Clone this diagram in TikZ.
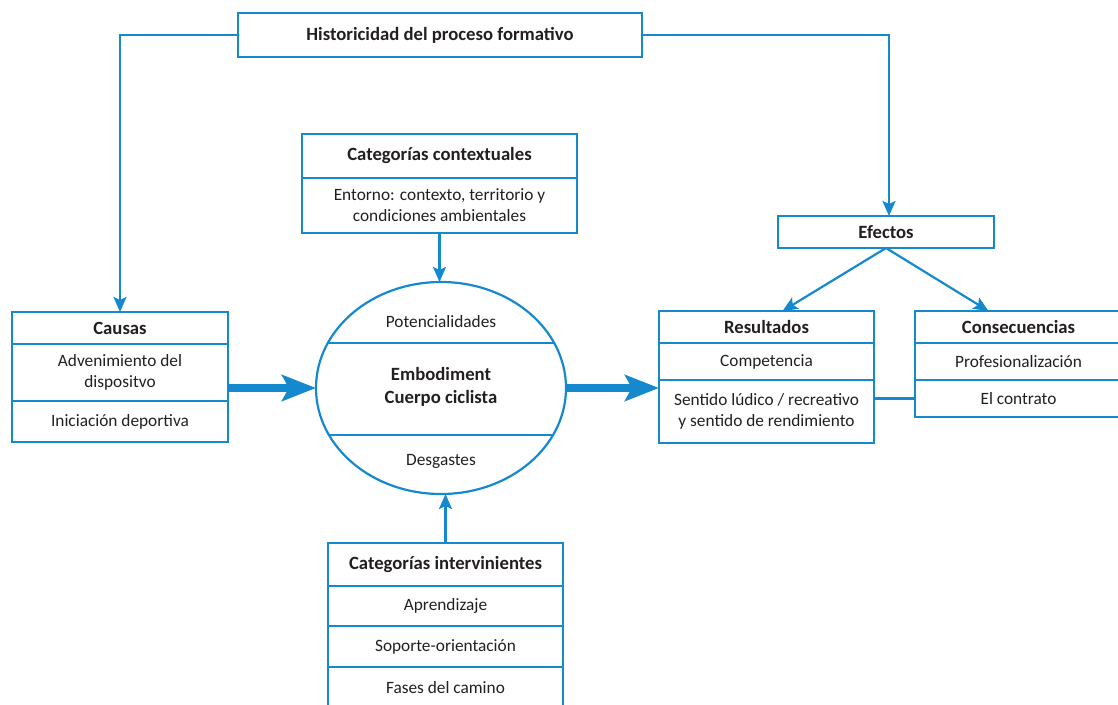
\documentclass[tikz,border=0pt]{standalone}
\usepackage{fontspec}
\setmainfont{Carlito}
\usetikzlibrary{positioning,shapes.geometric,arrows.meta}
\definecolor{diagblue}{RGB}{21,137,206}
\definecolor{inkgray}{RGB}{35,31,32}

\begin{document}
\begin{tikzpicture}[x=1pt,y=-1pt,
    font=\fontsize{17.3}{21}\selectfont,
    cell/.style={draw=diagblue, line width=2.2pt, outer sep=0pt, inner sep=2pt, align=center, text=inkgray},
    head/.style={cell, font=\fontsize{18.7}{21}\selectfont\bfseries},
    link/.style={draw=diagblue, line width=2.2pt, -{Stealth[length=15pt,width=13pt,inset=3pt]}},
    bigarrow/.style={draw=diagblue, line width=8pt, -{Stealth[length=34pt,width=26pt,inset=7pt]}}]

    \useasboundingbox (0,0) rectangle (1118,704);
    \clip (0,0) rectangle (1118,704);

    % Top box
    \node[head, minimum width=404, minimum height=44] (hist_box) at (440,35) {Historicidad del proceso formativo};

    % Context box
    \node[head, minimum width=275, minimum height=44] (ctx_head) at (439.5,156) {Categorías contextuales};
    \node[cell, minimum width=275, minimum height=55, below=0pt of ctx_head] (ctx_env) {Entorno: contexto, territorio y\\condiciones ambientales};

    % Causes
    \node[head, minimum width=216, minimum height=32] (causas_head) at (120,328) {Causas};
    \node[cell, minimum width=216, minimum height=57, below=0pt of causas_head] (causas_disp) {Advenimiento del\\dispositvo};
    \node[cell, minimum width=216, minimum height=41, below=0pt of causas_disp] (causas_ini) {Iniciación deportiva};

    % Central ellipse
    \node[draw=diagblue, line width=2.2pt, ellipse, minimum width=250, minimum height=212, inner sep=0pt, outer sep=0pt] (body) at (441,388) {};
    \begin{scope}
        \clip (body.center) ellipse [x radius=125, y radius=106];
        \draw[diagblue, line width=2.2pt] (300,343) -- (600,343) (300,435) -- (600,435);
    \end{scope}
    \node[text=inkgray] (pot_txt) at (441,322) {Potencialidades};
    \node[text=inkgray, align=center, font=\fontsize{18.7}{23}\selectfont\bfseries] (emb_txt) at (441,387) {Embodiment\\Cuerpo ciclista};
    \node[text=inkgray] (des_txt) at (441,461) {Desgastes};

    % Intervening categories
    \node[head, minimum width=235, minimum height=43] (int_head) at (445.5,564.5) {Categorías intervinientes};
    \node[cell, minimum width=235, minimum height=40, below=0pt of int_head] (int_apr) {Aprendizaje};
    \node[cell, minimum width=235, minimum height=41, below=0pt of int_apr] (int_sop) {Soporte-orientación};
    \node[cell, minimum width=235, minimum height=41, below=0pt of int_sop] (int_fas) {Fases del camino};

    % Effects
    \node[head, minimum width=216, minimum height=32] (ef_box) at (886,232) {Efectos};

    % Results
    \node[head, minimum width=215, minimum height=32] (res_head) at (766.5,327) {Resultados};
    \node[cell, minimum width=215, minimum height=37, below=0pt of res_head] (res_comp) {Competencia};
    \node[cell, minimum width=215, minimum height=63, below=0pt of res_comp] (res_sent) {Sentido lúdico / recreativo\\y sentido de rendimiento};

    % Consequences
    \node[head, minimum width=207, minimum height=32] (cons_head) at (1018.5,327) {Consecuencias};
    \node[cell, minimum width=207, minimum height=37, below=0pt of cons_head] (cons_prof) {Profesionalización};
    \node[cell, minimum width=207, minimum height=37, below=0pt of cons_prof] (cons_contr) {El contrato};

    % Connectors
    \draw[link] (hist_box.west) -| (causas_head.north);
    \draw[link] (hist_box.east) -| ([xshift=3pt]ef_box.north);
    \draw[link] (ctx_env.south) -- (ctx_env.south |- body.north);
    \draw[link] (int_head.north) -- (int_head.north |- body.south);
    \draw[link] (ef_box.south) -- ([xshift=16pt]res_head.north);
    \draw[link] (ef_box.south) -- ([xshift=-30pt]cons_head.north);
    \draw[bigarrow] (causas_disp.east |- body.west) -- (body.west);
    \draw[bigarrow] (body.east) -- (body.east -| res_sent.west);
    \draw[diagblue, line width=2.2pt] (res_sent.east |- cons_contr.west) -- (cons_contr.west);

\end{tikzpicture}
\end{document}
